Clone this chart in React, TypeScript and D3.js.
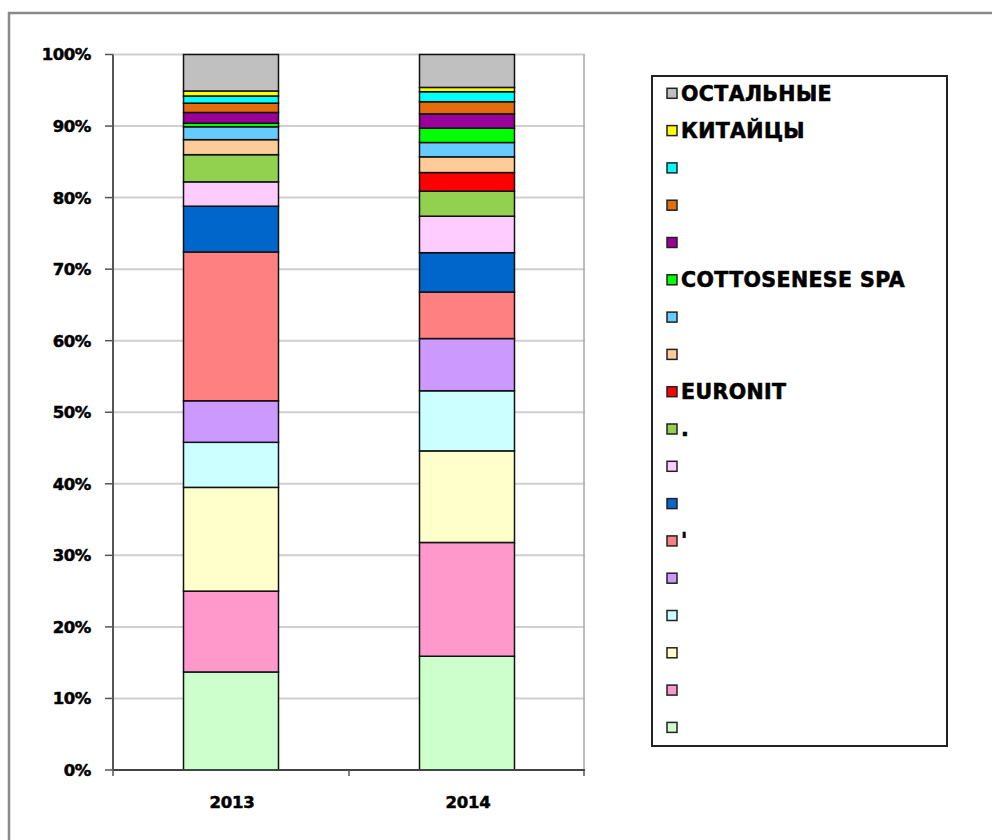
import React from "react";
import * as d3 from "d3";

// Categories (x axis)
const years = ["2013", "2014"];

// Series, listed from the bottom of the stack to the top
const seriesNames = [
  "", "", "", "", "", "'", "", "", ".", "EURONIT", "", "",
  "COTTOSENESE SPA", "", "", "", "КИТАЙЦЫ", "ОСТАЛЬНЫЕ",
];
const seriesColors = [
  "#CCFFCC", "#FF99CC", "#FFFFCC", "#CCFFFF", "#CC99FF", "#FF8080",
  "#0066CC", "#FFCCFF", "#92D050", "#FF0000", "#FFCC99", "#66CCFF",
  "#00FF00", "#990099", "#E46C0A", "#00FFFF", "#FFFF00", "#C0C0C0",
];
// Shares in percent, same order as seriesNames
const share2013 = [13.7, 11.3, 14.5, 6.3, 5.8, 20.8, 6.4, 3.4, 3.8, 0, 2.1, 1.8, 0.5, 1.5, 1.3, 1.0, 0.7, 5.1];
const share2014 = [15.9, 15.9, 12.8, 8.4, 7.3, 6.5, 5.5, 5.1, 3.5, 2.6, 2.2, 2.0, 2.0, 2.0, 1.7, 1.4, 0.6, 4.6];

const yTicks = [0, 0.1, 0.2, 0.3, 0.4, 0.5, 0.6, 0.7, 0.8, 0.9, 1];

const W = 992;
const H = 840;
const plotLeft = 113;
const plotRight = 585;
const plotBottom = 770;
const plotTop = 54.5;
const FONT = "'DejaVu Sans', sans-serif";

export default function App() {
  const keys = seriesNames.map((_, i) => `s${i}`);
  const rows = years.map((y, yi) => {
    const vals = yi === 0 ? share2013 : share2014;
    const row: any = { year: y };
    keys.forEach((k, i) => (row[k] = vals[i] / 100));
    return row;
  });
  const stacked = d3.stack<any>().keys(keys)(rows);

  const x = d3.scaleBand<string>().domain(years).range([plotLeft, plotRight]).paddingInner(0.5975).paddingOuter(0.29875);
  const y = d3.scaleLinear().domain([0, 1]).range([plotBottom, plotTop]);
  const step = x.step();
  const pct = d3.format(".0%");

  const legendTop = 93.3;
  const legendStep = 37.3;
  const legendOrder = seriesNames.map((_, i) => i).reverse();

  return (
    <svg width={W} height={H} style={{ position: "absolute", left: 0, top: 0, background: "#fff" }} fontFamily={FONT}>
      {/* outer frame */}
      <rect x={9} y={13} width={W + 20} height={H + 20} fill="#fff" stroke="#8a8a8a" strokeWidth={2.5} />

      {/* gridlines */}
      {yTicks.map((t) => (
        <line key={"g" + t} x1={plotLeft} x2={plotRight} y1={y(t)} y2={y(t)} stroke="#cfcfcf" strokeWidth={2} />
      ))}
      {/* right plot border */}
      <line x1={plotRight - 1} x2={plotRight - 1} y1={plotTop} y2={plotBottom} stroke="#a8a8a8" strokeWidth={1.5} />

      {/* bars */}
      {stacked.map((layer, li) =>
        layer.map((d: any, di: number) => {
          const h = y(d[0]) - y(d[1]);
          if (h <= 0.01) return null;
          return (
            <rect
              key={`b${li}-${di}`}
              x={x(years[di])!}
              y={y(d[1])}
              width={x.bandwidth()}
              height={h}
              fill={seriesColors[li]}
              stroke="#111"
              strokeWidth={1.5}
            />
          );
        })
      )}

      {/* y axis */}
      <line x1={plotLeft} x2={plotLeft} y1={plotTop} y2={plotBottom} stroke="#555" strokeWidth={2} />
      {yTicks.map((t) => (
        <g key={"t" + t}>
          <line x1={plotLeft - 8} x2={plotLeft} y1={y(t)} y2={y(t)} stroke="#555" strokeWidth={1.5} />
          <text x={91} y={y(t)} dy="0.36em" textAnchor="end" fontSize={16.5} fontWeight="bold" letterSpacing={-0.4} fill="#000" stroke="#000" strokeWidth={0.5}>
            {pct(t)}
          </text>
        </g>
      ))}

      {/* x axis */}
      <line x1={plotLeft} x2={plotRight} y1={plotBottom} y2={plotBottom} stroke="#444" strokeWidth={2} />
      {[0, 1, 2].map((i) => (
        <line key={"xt" + i} x1={plotLeft + i * step - (i === 2 ? 1 : 0)} x2={plotLeft + i * step - (i === 2 ? 1 : 0)} y1={plotBottom} y2={plotBottom + 6} stroke="#555" strokeWidth={1.5} />
      ))}
      {years.map((yr) => (
        <text key={"xl" + yr} x={x(yr)! + x.bandwidth() / 2 + 1} y={808} textAnchor="middle" fontSize={16.5} fontWeight="bold" letterSpacing={-0.2} fill="#000" stroke="#000" strokeWidth={0.5}>
          {yr}
        </text>
      ))}

      {/* legend */}
      <rect x={652} y={76} width={295} height={670} fill="#fff" stroke="#222" strokeWidth={2} />
      {legendOrder.map((si, k) => {
        const cy = legendTop + k * legendStep;
        return (
          <g key={"l" + si}>
            <rect x={667} y={cy - 5} width={10} height={10} fill={seriesColors[si]} stroke="#222" strokeWidth={1.5} />
            <text x={681} y={cy} dy="0.36em" fontSize={20.5} fontWeight="bold" letterSpacing={0.4} fill="#000" stroke="#000" strokeWidth={0.6}>
              {seriesNames[si]}
            </text>
          </g>
        );
      })}
    </svg>
  );
}
